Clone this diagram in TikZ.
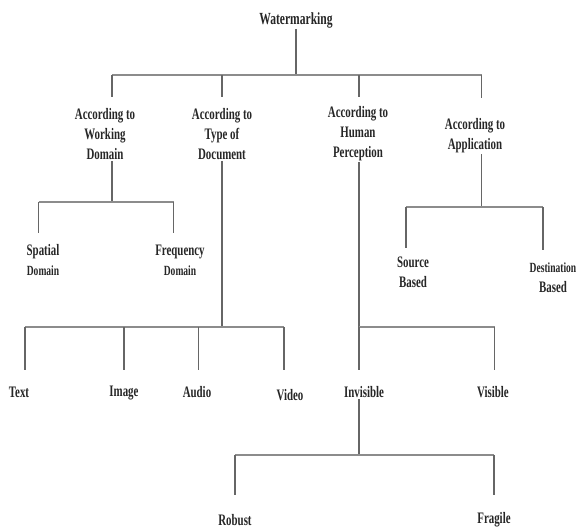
\documentclass[tikz,border=0pt]{standalone}
\usepackage{fontspec}
\setmainfont{Liberation Serif}[FakeStretch=0.68]
\begin{document}
\begin{tikzpicture}[x=1pt,y=-1pt,
  lbl/.style={font=\bfseries\fontsize{16}{20}\selectfont, text=black!85, align=center, inner sep=1pt},
  bar/.style={draw=black!45, line width=2.2pt},
  stem/.style={draw=black!60, line width=1.1pt}]
\useasboundingbox (0,0) rectangle (576,531);
% nodes
\node[lbl, font=\bfseries\fontsize{17}{20}\selectfont] (root) at (296,20) {Watermarking};
\node[lbl] (wd) at (105,134) {According to\\Working\\Domain};
\node[lbl] (td) at (222,134) {According to\\Type of\\Document};
\node[lbl] (hp) at (358,134) {According to\\Human\\Perception};
\node[lbl] (ap) at (475,136) {According to\\Application};
\node[lbl] (sp) at (43,260) {Spatial\\{\fontsize{14}{20}\selectfont Domain}};
\node[lbl] (fr) at (180,260) {Frequency\\{\fontsize{14}{20}\selectfont Domain}};
\node[lbl] (sb) at (413,272) {Source\\Based};
\node[lbl] (db) at (553,278) {{\fontsize{14}{20}\selectfont Destination}\\Based};
\node[lbl] (text) at (19,392) {Text};
\node[lbl] (image) at (124,393) {Image};
\node[lbl] (audio) at (197,392) {Audio};
\node[lbl] (video) at (290,395) {Video};
\node[lbl] (invis) at (364,392) {Invisible};
\node[lbl] (vis) at (493,392) {Visible};
\node[lbl] (rob) at (235,520) {Robust};
\node[lbl] (frag) at (494,520) {Fragile};
% junctions and tops
\coordinate (j0) at (296,75);
\coordinate (wdT) at (112,97); \coordinate (tdT) at (222,97);
\coordinate (hpT) at (359,97); \coordinate (apT) at (481.5,98);
\coordinate (j1) at (112,202);
\coordinate (spT) at (38.5,233); \coordinate (frT) at (173.5,233);
\coordinate (j2) at (222,327);
\coordinate (textT) at (25,370); \coordinate (imageT) at (124,370);
\coordinate (audioT) at (198.5,370); \coordinate (videoT) at (284,370);
\coordinate (j3) at (359,327);
\coordinate (invT) at (359,370); \coordinate (visT) at (494.5,370);
\coordinate (j4) at (481.5,207);
\coordinate (sbT) at (406,248); \coordinate (dbT) at (543,250);
\coordinate (j5) at (359,455);
\coordinate (robT) at (235,495); \coordinate (fragT) at (494,495);
% level 0
\draw[stem] (j0 |- root.south) -- (j0);
\draw[bar] (j0 -| wdT) -- (j0 -| apT);
\foreach \c in {wdT,tdT,hpT,apT} \draw[stem] (j0 -| \c) -- (\c);
% working domain
\draw[stem] (j1 |- wd.south) -- (j1);
\draw[bar] (j1 -| spT) -- (j1 -| frT);
\foreach \c in {spT,frT} \draw[stem] (j1 -| \c) -- (\c);
% type of document
\draw[stem] (j2 |- td.south) -- (j2);
\draw[bar] (j2 -| textT) -- (j2 -| videoT);
\foreach \c in {textT,imageT,audioT,videoT} \draw[stem] (j2 -| \c) -- (\c);
% human perception
\draw[stem] (j3 |- hp.south) -- (j3);
\draw[bar] (j3 -| invT) -- (j3 -| visT);
\foreach \c in {invT,visT} \draw[stem] (j3 -| \c) -- (\c);
% application
\draw[stem] (j4 |- ap.south) -- (j4);
\draw[bar] (j4 -| sbT) -- (j4 -| dbT);
\foreach \c in {sbT,dbT} \draw[stem] (j4 -| \c) -- (\c);
% invisible
\draw[stem] (j5 |- invis.south) -- (j5);
\draw[bar] (j5 -| robT) -- (j5 -| fragT);
\foreach \c in {robT,fragT} \draw[stem] (j5 -| \c) -- (\c);
\end{tikzpicture}
\end{document}
